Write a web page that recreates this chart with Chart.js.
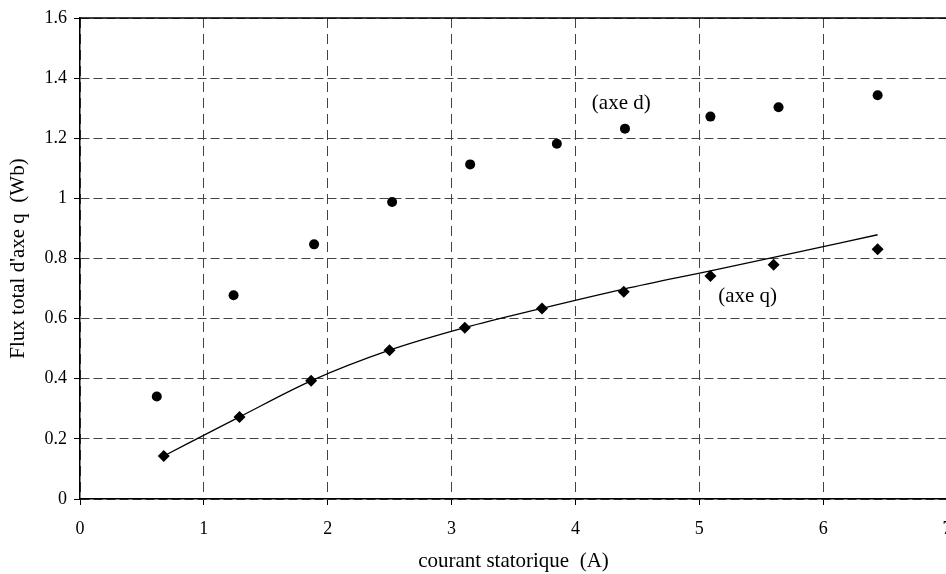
<!DOCTYPE html>
<html>
<head>
<meta charset="utf-8">
<script src="https://cdn.jsdelivr.net/npm/chart.js@4/dist/chart.umd.min.js"></script>
<style>
  html, body { margin: 0; padding: 0; background: #fff; overflow: hidden; }
  #wrap { width: 960px; height: 574px; }
</style>
</head>
<body>
<div id="wrap"><canvas id="c" width="960" height="574"></canvas></div>
<script>
// ---- data ----
const dCurrent = [0.62, 1.24, 1.89, 2.52, 3.15, 3.85, 4.40, 5.09, 5.64, 6.44];
const dFlux    = [0.341, 0.678, 0.847, 0.988, 1.113, 1.182, 1.232, 1.272, 1.303, 1.343];

const qCurrent = [0.676, 1.288, 1.866, 2.499, 3.107, 3.73, 4.39, 5.09, 5.60, 6.44];
const qFlux    = [0.143, 0.273, 0.393, 0.495, 0.570, 0.634, 0.689, 0.742, 0.779, 0.831];

const trendCurrent = [0.676, 1.288, 1.866, 2.499, 3.107, 3.73, 4.39, 5.09, 5.60, 6.44];
const trendFlux    = [0.143, 0.273, 0.393, 0.495, 0.570, 0.634, 0.698, 0.759, 0.804, 0.879];

const xTickValues = [0, 1, 2, 3, 4, 5, 6, 7];
const xTickLabels = ['0', '1', '2', '3', '4', '5', '6', '7'];
const yTickValues = [0, 0.2, 0.4, 0.6, 0.8, 1, 1.2, 1.4, 1.6];
const yTickLabels = ['0', '0.2', '0.4', '0.6', '0.8', '1', '1.2', '1.4', '1.6'];

const noteTexts = ['(axe d)', '(axe q)'];
const noteX = [4.37, 5.39];
const noteY = [1.314, 0.674];

const xTitle = 'courant statorique  (A)';
const yTitle = "Flux total d'axe q  (Wb)";

// ---- chart ----
const FONT = "'Liberation Serif', 'Times New Roman', serif";

function toPts(xs, ys) { return xs.map((x, i) => ({ x: x, y: ys[i] })); }

const framePlugin = {
  id: 'frame',
  beforeDatasetsDraw(chart) {
    const { ctx, chartArea: a } = chart;
    ctx.save();
    ctx.strokeStyle = '#000';
    ctx.lineWidth = 1.5;
    ctx.beginPath();
    ctx.moveTo(a.left, a.top);
    ctx.lineTo(a.right, a.top);
    ctx.stroke();
    ctx.restore();
  },
  afterDatasetsDraw(chart) {
    const { ctx, scales } = chart;
    ctx.save();
    ctx.fillStyle = '#000';
    ctx.font = '21px ' + FONT;
    ctx.textAlign = 'center';
    ctx.textBaseline = 'middle';
    noteTexts.forEach((t, i) => {
      ctx.fillText(t, scales.x.getPixelForValue(noteX[i]), scales.y.getPixelForValue(noteY[i]));
    });
    ctx.restore();
  }
};

new Chart(document.getElementById('c'), {
  type: 'scatter',
  data: {
    datasets: [
      {
        label: 'axe d',
        data: toPts(dCurrent, dFlux),
        pointStyle: 'circle',
        pointRadius: 5,
        pointBackgroundColor: '#000',
        pointBorderColor: '#000',
        pointBorderWidth: 0,
        showLine: false
      },
      {
        label: 'axe q',
        data: toPts(qCurrent, qFlux),
        pointStyle: 'rectRot',
        pointRadius: 6,
        pointBackgroundColor: '#000',
        pointBorderColor: '#000',
        pointBorderWidth: 0,
        showLine: false
      },
      {
        label: 'tendance',
        data: toPts(trendCurrent, trendFlux),
        showLine: true,
        borderColor: '#000',
        borderWidth: 1.3,
        pointRadius: 0,
        cubicInterpolationMode: 'monotone',
        fill: false
      }
    ]
  },
  options: {
    responsive: false,
    devicePixelRatio: 1,
    animation: false,
    layout: { padding: { left: 0, right: 13, top: 18, bottom: 0 } },
    plugins: {
      legend: { display: false },
      tooltip: { enabled: false }
    },
    scales: {
      x: {
        type: 'linear',
        min: 0, max: 7,
        afterBuildTicks(s) { s.ticks = xTickValues.map(v => ({ value: v })); },
        afterFit(s) { s.height = 75; s.paddingRight = 0; s.paddingLeft = 0; },
        ticks: {
          color: '#000',
          font: { family: FONT, size: 18 },
          padding: 13,
          maxRotation: 0,
          callback(v) { const i = xTickValues.indexOf(v); return i >= 0 ? xTickLabels[i] : ''; }
        },
        grid: {
          color: '#444',
          lineWidth: 1,
          tickLength: 6,
          tickColor: '#000',
          tickBorderDash: [],
          tickWidth: 1
        },
        border: { display: true, color: '#000', width: 1.5, dash: [10, 6] },
        title: {
          display: true,
          text: xTitle,
          color: '#000',
          font: { family: FONT, size: 21 },
          padding: { top: 0, bottom: 0 }
        }
      },
      y: {
        type: 'linear',
        min: 0, max: 1.6,
        afterBuildTicks(s) { s.ticks = yTickValues.map(v => ({ value: v })); },
        afterFit(s) { s.width = 80; },
        ticks: {
          color: '#000',
          font: { family: FONT, size: 18 },
          padding: 7,
          callback(v) {
            const i = yTickValues.findIndex(t => Math.abs(t - v) < 1e-9);
            return i >= 0 ? yTickLabels[i] : '';
          }
        },
        grid: {
          color: '#444',
          lineWidth: 1,
          tickLength: 6,
          tickColor: '#000',
          tickBorderDash: [],
          tickWidth: 1
        },
        border: { display: true, color: '#000', width: 1.5, dash: [9, 4] },
        title: {
          display: true,
          text: yTitle,
          color: '#000',
          font: { family: FONT, size: 21 },
          padding: { top: 6, bottom: 0 }
        }
      }
    }
  },
  plugins: [framePlugin]
});
</script>
</body>
</html>
